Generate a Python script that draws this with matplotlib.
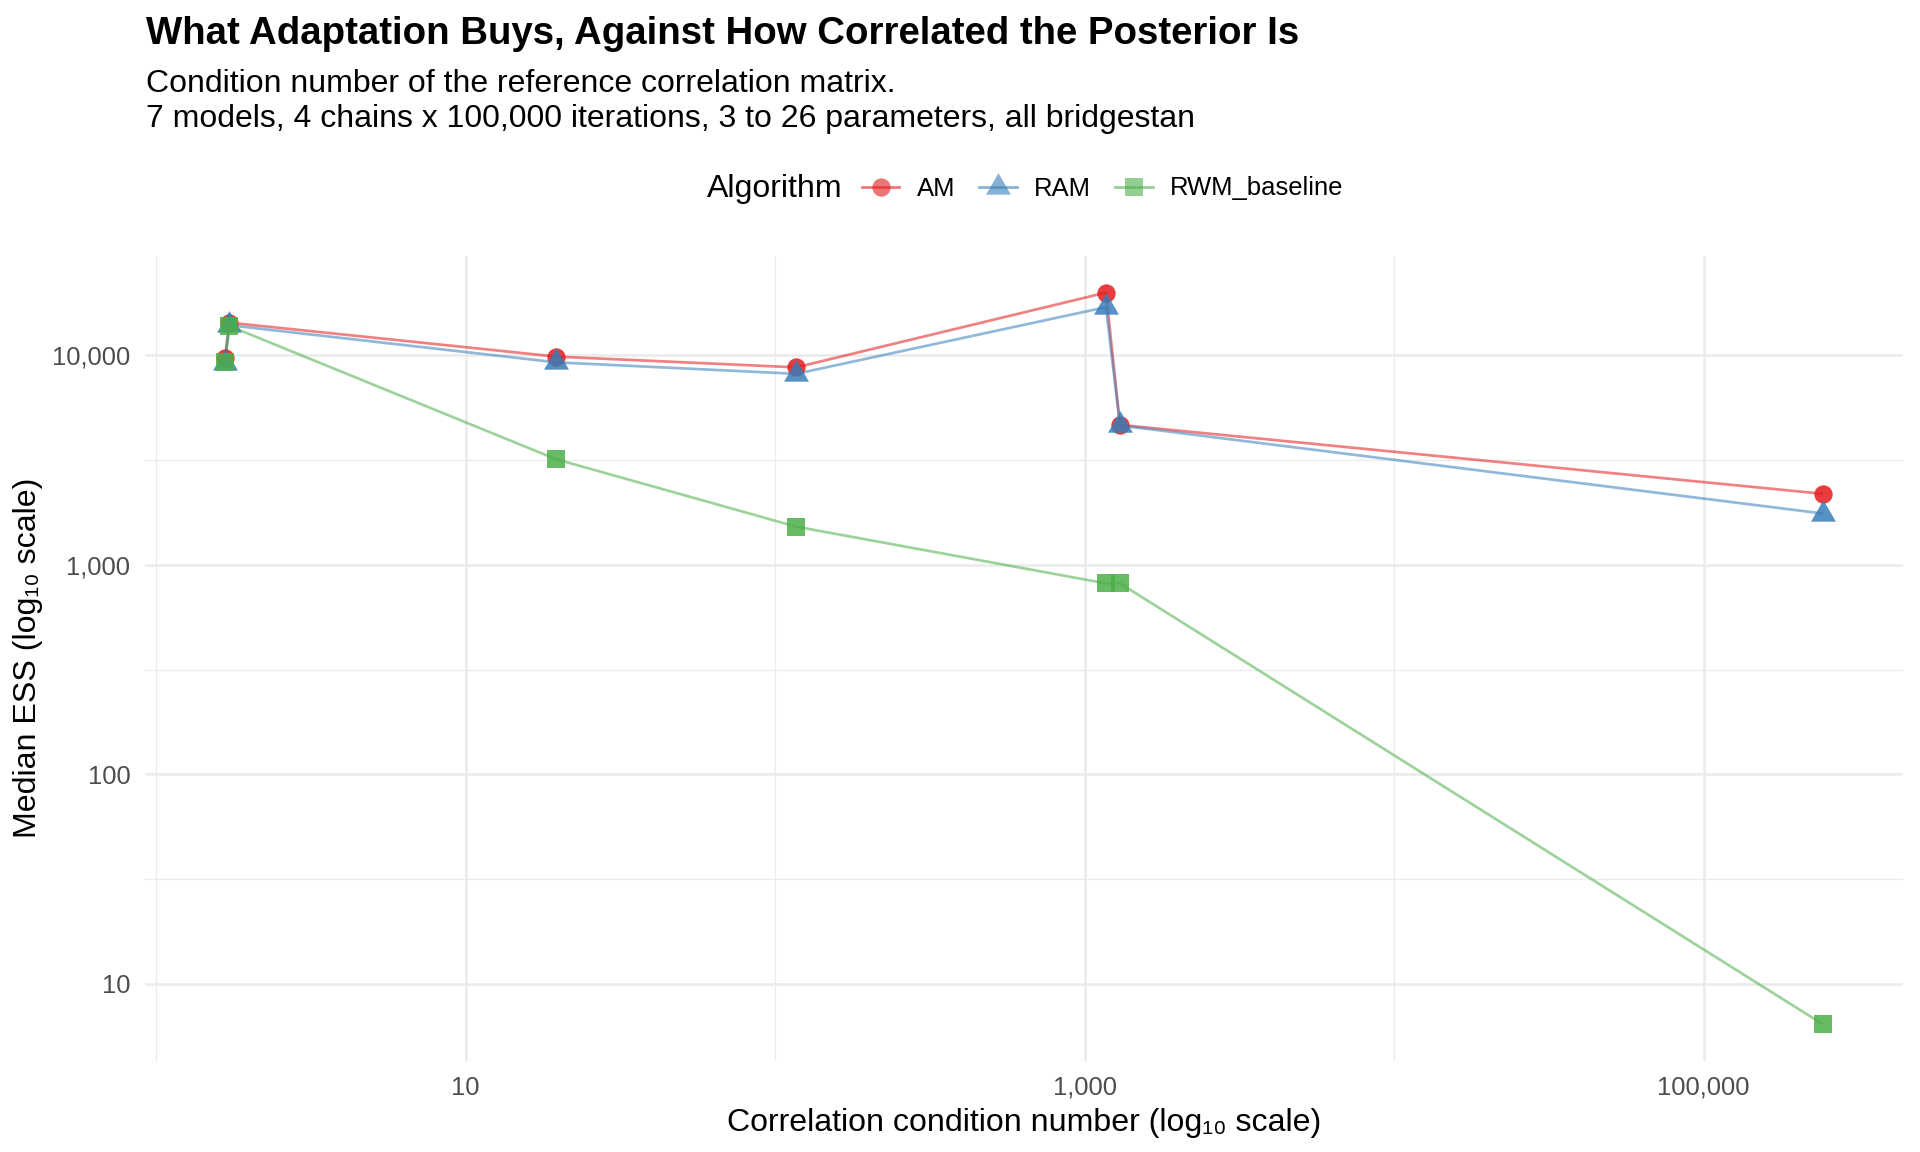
import matplotlib
matplotlib.use('Agg')
import matplotlib.pyplot as plt
import numpy as np
from matplotlib.ticker import FixedLocator, FuncFormatter, NullFormatter
from matplotlib.lines import Line2D

plt.rcParams['font.family'] = ['Liberation Sans', 'DejaVu Sans']

# ---- data ----
condition_number = [1.67, 1.725, 19.6, 117, 1172, 1301, 243000]
ess_am = [9650, 14300, 9850, 8750, 19900, 4650, 2180]
ess_ram = [9180, 13900, 9250, 8150, 16950, 4620, 1755]
ess_rwm = [9250, 13800, 3190, 1520, 815, 815, 6.4]

algorithms = ['AM', 'RAM', 'RWM_baseline']
series = [ess_am, ess_ram, ess_rwm]
colors = ['#E41A1C', '#377EB8', '#4DAF4A']

title = 'What Adaptation Buys, Against How Correlated the Posterior Is'
subtitle_1 = 'Condition number of the reference correlation matrix.'
subtitle_2 = '7 models, 4 chains x 100,000 iterations, 3 to 26 parameters, all bridgestan'
x_label = 'Correlation condition number (log\u2081\u2080 scale)'
y_label = 'Median ESS (log\u2081\u2080 scale)'
legend_title = 'Algorithm'

x_major = [10, 1000, 100000]
x_minor = [1, 100, 10000, 1000000]
y_major = [10, 100, 1000, 10000]
y_minor = [10 ** 0.5, 10 ** 1.5, 10 ** 2.5, 10 ** 3.5, 10 ** 4.5]

# equilateral triangle centred on its centroid (like R pch 17)
tri = [(0, 1), (-0.866, -0.5), (0.866, -0.5), (0, 1)]
markers = ['o', tri, 's']
msizes = [8.8, 13.8, 8.8]

W, H = 1920, 1152
fig = plt.figure(figsize=(12.8, 7.68), dpi=150)
ax = fig.add_axes([145 / W, 1 - 1061 / H, (1903 - 145) / W, (1061 - 256) / H])

order = np.argsort(condition_number)
xs = np.array(condition_number)[order]
for vals, c in zip(series, colors):
    ax.plot(xs, np.array(vals)[order], color=c, lw=1.3, alpha=0.55, zorder=2,
            solid_capstyle='butt')
for vals, c, m, ms in zip(series, colors, markers, msizes):
    ax.plot(xs, np.array(vals)[order], ls='none', marker=m, ms=ms, color=c,
            alpha=0.85, mew=0, zorder=3)

ax.set_xscale('log')
ax.set_yscale('log')
lx = np.log10(condition_number)
xr = lx.max() - lx.min()
ax.set_xlim(10 ** (lx.min() - 0.05 * xr), 10 ** (lx.max() + 0.05 * xr))
ly = np.log10(np.concatenate([ess_am, ess_ram, ess_rwm]))
yr = ly.max() - ly.min()
ax.set_ylim(10 ** (ly.min() - 0.05 * yr), 10 ** (ly.max() + 0.05 * yr))

fmt = FuncFormatter(lambda v, p: f'{v:,.0f}')
ax.xaxis.set_major_locator(FixedLocator(x_major))
ax.xaxis.set_minor_locator(FixedLocator(x_minor))
ax.yaxis.set_major_locator(FixedLocator(y_major))
ax.yaxis.set_minor_locator(FixedLocator(y_minor))
ax.xaxis.set_major_formatter(fmt)
ax.yaxis.set_major_formatter(fmt)
ax.xaxis.set_minor_formatter(NullFormatter())
ax.yaxis.set_minor_formatter(NullFormatter())

ax.grid(which='major', color='#EBEBEB', lw=1.2, zorder=0)
ax.grid(which='minor', color='#EBEBEB', lw=0.6, zorder=0)
ax.set_axisbelow(True)
for s in ax.spines.values():
    s.set_visible(False)
ax.tick_params(which='both', length=0, labelsize=12.3, labelcolor='#4D4D4D', pad=7)

fig.text(1024 / W, 1 - 1131.5 / H, x_label, ha='center', va='baseline', fontsize=15.4)
fig.text(28 / W, 1 - 658 / H, y_label, ha='center', va='center', rotation=90, fontsize=15.4)

fig.text(146 / W, 1 - 44.5 / H, title, ha='left', va='baseline', fontsize=18.4, fontweight='bold')
fig.text(146 / W, 1 - 92.5 / H, subtitle_1, ha='left', va='baseline', fontsize=15.35)
fig.text(146 / W, 1 - 126.5 / H, subtitle_2, ha='left', va='baseline', fontsize=15.35)

# legend
fig.text(706.5 / W, 1 - 188.5 / H, legend_title, ha='left', va='center', fontsize=15.4)
handles = []
for c, m, ms in zip(colors, markers, msizes):
    handles.append(Line2D([0], [0], color=c, lw=1.3, alpha=0.85, marker=m, ms=ms,
                          mew=0, markerfacecolor=c))
leg = fig.legend(handles, algorithms, loc='center left',
                 bbox_to_anchor=(862 / W, 1 - 188.5 / H), ncol=3, frameon=False,
                 fontsize=12.3, borderpad=0, borderaxespad=0, handlelength=1.45,
                 handletextpad=0.68, columnspacing=0.95)
for lh in leg.get_lines():
    lh.set_alpha(0.6)

fig.savefig('out.png', dpi=150, facecolor='white')
